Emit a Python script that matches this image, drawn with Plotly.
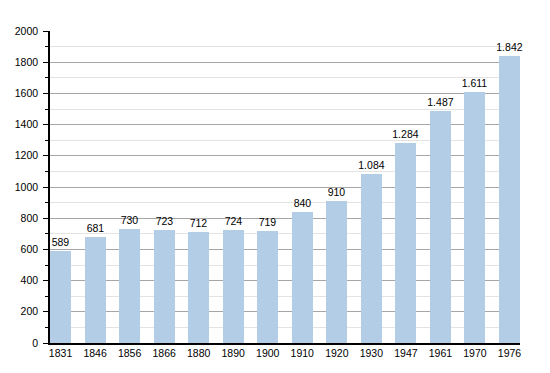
import plotly.graph_objects as go

years = ["1831", "1846", "1856", "1866", "1880", "1890", "1900", "1910", "1920", "1930", "1947", "1961", "1970", "1976"]
population = [589, 681, 730, 723, 712, 724, 719, 840, 910, 1084, 1284, 1487, 1611, 1842]
y_ticks = [0, 200, 400, 600, 800, 1000, 1200, 1400, 1600, 1800, 2000]

labels = [f"{v:,}".replace(",", ".") for v in population]

fig = go.Figure()
fig.add_trace(go.Bar(
    x=list(range(len(years))),
    y=population,
    width=0.61,
    marker=dict(color="#b3cde6", line=dict(width=0)),
    text=labels,
    textposition="outside",
    constraintext="none",
    textfont=dict(size=10.5, color="#000000"),
    cliponaxis=False,
))

fig.update_layout(
    width=542, height=365,
    margin=dict(l=42, r=30, t=23, b=30),
    paper_bgcolor="white",
    plot_bgcolor="white",
    font=dict(family="Liberation Sans, Arial, sans-serif", size=10.5, color="#000000"),
    showlegend=False,
    bargap=0,
    xaxis=dict(
        range=[-0.305, 13.305],
        tickmode="array",
        tickvals=list(range(len(years))),
        ticktext=years,
        showgrid=False,
        showline=True,
        linecolor="#000000",
        linewidth=1.5,
        ticks="",
        zeroline=False,
        automargin=False,
        fixedrange=True,
    ),
    yaxis=dict(
        range=[0, 2000],
        tickmode="array",
        tickvals=y_ticks,
        ticktext=[str(v) for v in y_ticks],
        showgrid=True,
        gridcolor="#a6a6a6",
        gridwidth=1,
        showline=True,
        linecolor="#000000",
        linewidth=1.5,
        ticks="outside",
        ticklen=5,
        tickcolor="#000000",
        ticklabelstandoff=3,
        zeroline=False,
        automargin=False,
        minor=dict(
            dtick=100,
            tick0=0,
            showgrid=True,
            gridcolor="#e3e3e3",
            gridwidth=1,
            ticks="outside",
            ticklen=3,
            tickcolor="#000000",
        ),
    ),
)

fig.write_html("out.html")
